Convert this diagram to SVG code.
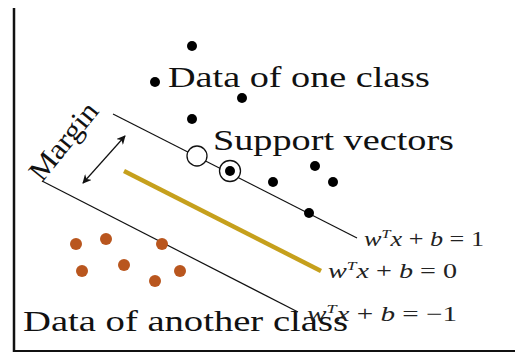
<svg xmlns="http://www.w3.org/2000/svg" width="515" height="354" viewBox="0 0 515 354">
<style>
.lbl{font-family:"Liberation Serif","Times New Roman",serif;fill:#111}
.eq{font-family:"Liberation Serif","Times New Roman",serif;fill:#222;font-size:21px}
.it{font-style:italic}
.bd{fill:#000}
.od{fill:#b9561e}
.ln{stroke:#111;stroke-width:1.2;fill:none}
</style>
<defs>
<marker id="ah" viewBox="0 0 10 10" refX="9" refY="5" markerWidth="9" markerHeight="9" markerUnits="userSpaceOnUse" orient="auto-start-reverse">
<path d="M0,0 L10,5 L0,10 L3,5 Z" fill="#111"/>
</marker>
</defs>
<rect width="515" height="354" fill="#fff"/>
<g id="frame">
<line x1="14" y1="8" x2="14" y2="352" stroke="#111" stroke-width="2.5"/>
<line x1="13" y1="351" x2="515" y2="351" stroke="#111" stroke-width="2"/>
</g>
<g id="connectors">
<line id="plus-plane" class="ln" x1="113" y1="114" x2="357" y2="238"/>
<line id="minus-plane" class="ln" x1="42" y1="181" x2="298" y2="312"/>
<line id="hyperplane" x1="124" y1="171" x2="321" y2="271" stroke="#c6a01c" stroke-width="4.5"/>
<line id="margin-arrow" x1="83" y1="183" x2="125" y2="136" stroke="#111" stroke-width="1.2" marker-start="url(#ah)" marker-end="url(#ah)"/>
</g>
<g id="class-one">
<circle class="bd" cx="192" cy="46" r="5"/>
<circle class="bd" cx="155" cy="82" r="5"/>
<circle class="bd" cx="242" cy="98" r="5"/>
<circle class="bd" cx="192" cy="119" r="5"/>
<circle class="bd" cx="273" cy="182" r="5"/>
<circle class="bd" cx="315" cy="166" r="5"/>
<circle class="bd" cx="333" cy="182" r="5"/>
<circle class="bd" cx="309" cy="213" r="5"/>
</g>
<g id="support-vectors">
<circle cx="197" cy="156" r="10" fill="#fff" stroke="#111" stroke-width="1.3"/>
<circle cx="230" cy="171" r="10.5" fill="#fff" stroke="#111" stroke-width="1.3"/>
<circle class="bd" cx="230" cy="171" r="5"/>
</g>
<g id="class-two">
<circle class="od" cx="76" cy="244" r="6"/>
<circle class="od" cx="106" cy="239" r="6"/>
<circle class="od" cx="162" cy="244" r="6"/>
<circle class="od" cx="82" cy="271" r="6"/>
<circle class="od" cx="124" cy="265" r="6"/>
<circle class="od" cx="155" cy="281" r="6"/>
<circle class="od" cx="180" cy="271" r="6"/>
</g>
<g id="labels">
<text class="lbl" x="168" y="87" font-size="30" textLength="262" lengthAdjust="spacingAndGlyphs">Data of one class</text>
<text class="lbl" x="213" y="150" font-size="30" textLength="241" lengthAdjust="spacingAndGlyphs">Support vectors</text>
<text class="lbl" x="23" y="331" font-size="30" textLength="325" lengthAdjust="spacingAndGlyphs">Data of another class</text>
<text class="lbl" x="0" y="0" font-size="29" transform="translate(42,183) rotate(-51)" textLength="92" lengthAdjust="spacingAndGlyphs">Margin</text>
</g>
<g id="equations">
<text class="eq" x="364" y="246" textLength="120" lengthAdjust="spacingAndGlyphs"><tspan class="it">w</tspan><tspan class="it" font-size="13" dy="-8">T</tspan><tspan class="it" dy="8">x</tspan> + <tspan class="it">b</tspan> = 1</text>
<text class="eq" x="328" y="278" textLength="129" lengthAdjust="spacingAndGlyphs"><tspan class="it">w</tspan><tspan class="it" font-size="13" dy="-8">T</tspan><tspan class="it" dy="8">x</tspan> + <tspan class="it">b</tspan> = 0</text>
<text class="eq" x="307" y="321" textLength="150" lengthAdjust="spacingAndGlyphs"><tspan class="it">w</tspan><tspan class="it" font-size="13" dy="-8">T</tspan><tspan class="it" dy="8">x</tspan> + <tspan class="it">b</tspan> = −1</text>
</g>
</svg>
